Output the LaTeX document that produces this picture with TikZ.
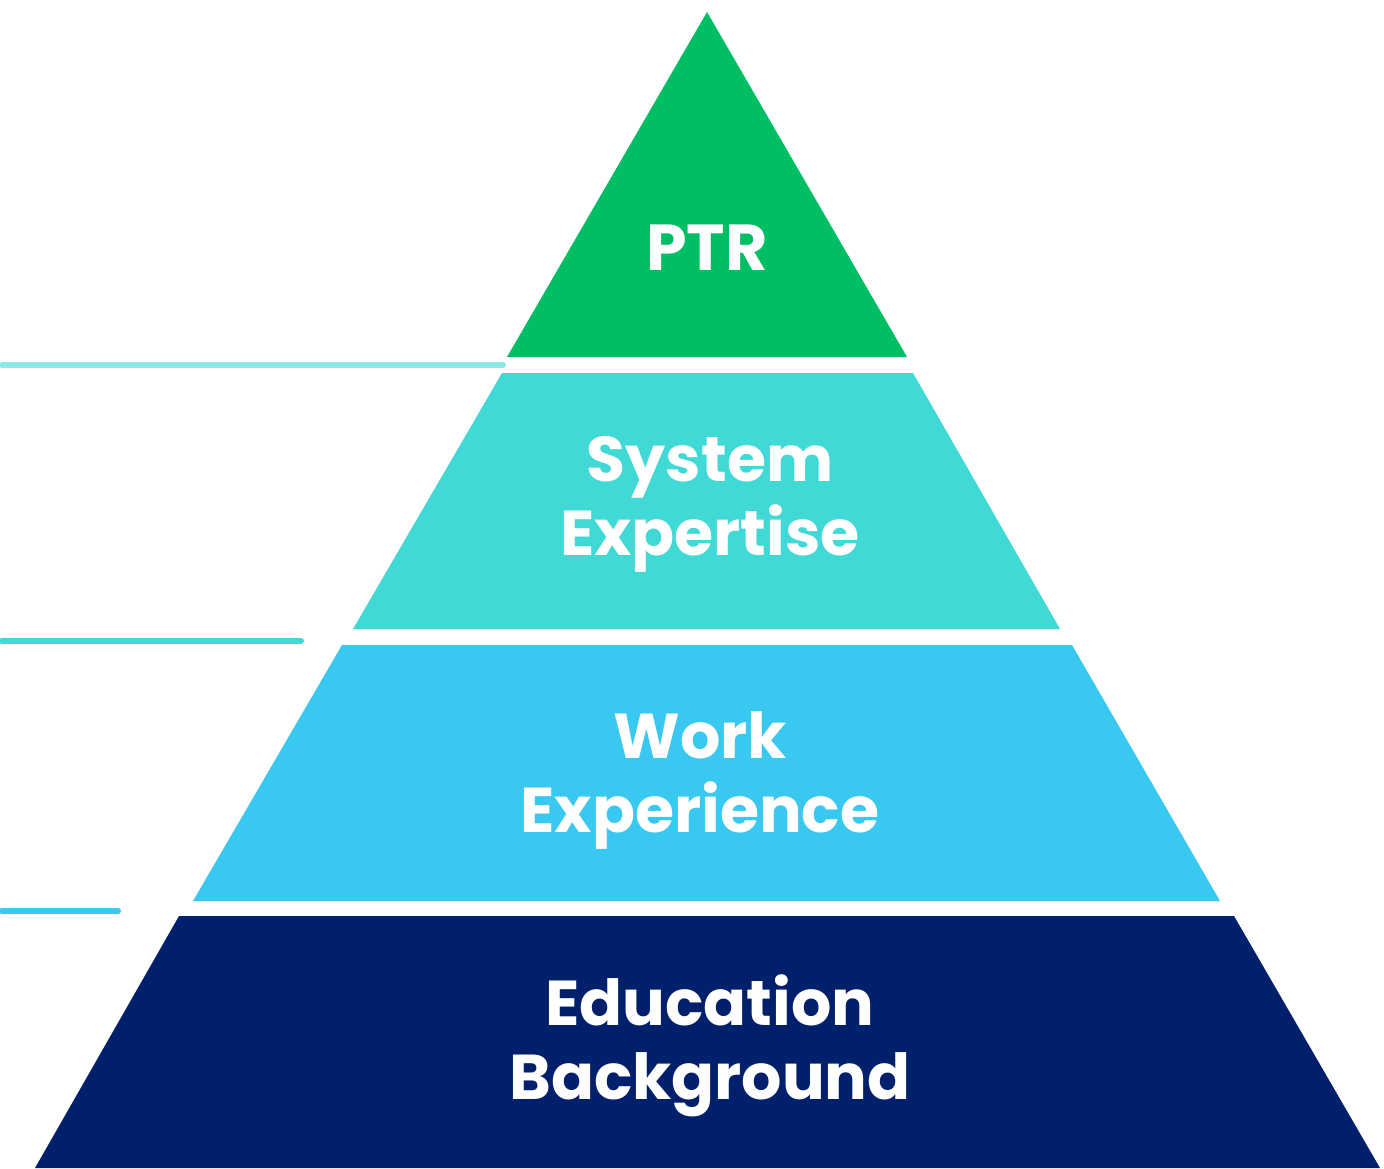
\documentclass[tikz,border=0pt]{standalone}
\usepackage{fontspec}
\setmainfont{Poppins}
\usetikzlibrary{positioning}

\definecolor{ptrgreen}{HTML}{00BE64}
\definecolor{systeal}{HTML}{40D9D6}
\definecolor{worksky}{HTML}{38C8F0}
\definecolor{edunavy}{HTML}{00206B}
\definecolor{tickpale}{HTML}{8CE9E6}

\begin{document}
\begin{tikzpicture}[
    x=0.5pt, y=-0.5pt,
    label/.style={text=white, align=center, font=\fontsize{31.7}{37}\selectfont\bfseries, inner sep=0pt},
    tick/.style={line width=3pt, line cap=round}
]
    \useasboundingbox (0,0) rectangle (1384,1168);

    % Layers
    \fill [ptrgreen] (707,12) -- (907,357) -- (507,357) -- cycle;
    \fill [systeal] (502,373) -- (913,373) -- (1060,629) -- (353,629) -- cycle;
    \fill [worksky] (342,645) -- (1072,645) -- (1220,901) -- (193,901) -- cycle;
    \fill [edunavy] (179,916) -- (1234,916) -- (1380,1168) -- (35,1168) -- cycle;

    % Labels
    \node [label, font=\fontsize{32.5}{37}\selectfont\bfseries] (ptr) at (707,248) {PTR};
    \node [label] (system) at (710,504) {System\\Expertise};
    \node [label] (work) at (700,780) {Work\\Experience};
    \node [label] (edu) at (710,1046) {Education\\Background};

    % Side ticks
    \coordinate (t1a) at (2,365);  \coordinate (t1b) at (503,365);
    \coordinate (t2a) at (2,641);  \coordinate (t2b) at (301,641);
    \coordinate (t3a) at (2,911);  \coordinate (t3b) at (118,911);
    \draw [tick, tickpale] (t1a) -- (t1b);
    \draw [tick, systeal] (t2a) -- (t2b);
    \draw [tick, worksky] (t3a) -- (t3b);

\end{tikzpicture}
\end{document}
